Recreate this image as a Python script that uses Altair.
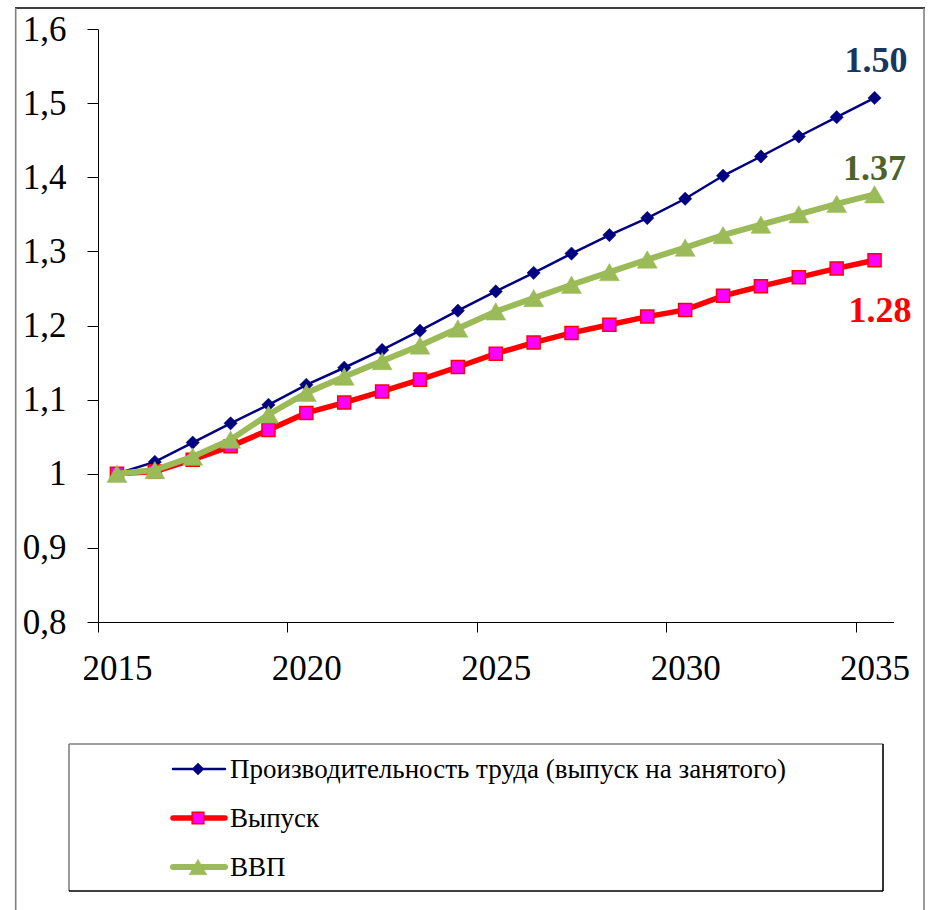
import altair as alt
import pandas as pd

# ---------------- data ----------------
years = list(range(2015, 2036))
series_names = [
    "Производительность труда (выпуск на занятого)",
    "Выпуск",
    "ВВП",
]
productivity = [1.000, 1.016, 1.042, 1.068, 1.093, 1.120, 1.143, 1.167, 1.193, 1.220,
                1.246, 1.271, 1.297, 1.322, 1.345, 1.371, 1.402, 1.428, 1.455, 1.481, 1.507]
output = [1.000, 1.003, 1.019, 1.037, 1.059, 1.082, 1.096, 1.111, 1.127, 1.144,
          1.162, 1.177, 1.190, 1.201, 1.212, 1.221, 1.240, 1.253, 1.265, 1.277, 1.288]
gdp = [1.000, 1.005, 1.023, 1.046, 1.080, 1.109, 1.131, 1.152, 1.173, 1.196,
       1.219, 1.237, 1.255, 1.272, 1.289, 1.305, 1.322, 1.336, 1.350, 1.364, 1.377]
end_labels = ["1.50", "1.28", "1.37"]
x_tick_labels = [2015, 2020, 2025, 2030, 2035]
y_tick_values = [0.8, 0.9, 1.0, 1.1, 1.2, 1.3, 1.4, 1.5, 1.6]

series_values = [productivity, output, gdp]

# ---------------- layout / style ----------------
FONT = "Liberation Serif"
W, H = 795.5, 593
PAD = {"left": 98, "top": 29, "right": 928 - 98 - W, "bottom": 910 - 29 - H}
half_cat = W / 21 / 2

styles = [
    dict(line="#000080", lw=2.5, shape="diamond", fill="#000080", stroke="#000080", sw=0.5,
         size=177, lab="#17375E", dx=1.5, dy=-26),
    dict(line="#FF0000", lw=5.5, shape="square", fill="#FF00FF", stroke="#FF0000", sw=1.5,
         size=170, lab="#FF0000", dx=5.5, dy=62),
    dict(line="#9BBB59", lw=6, shape="triangle-up", fill="#9BBB59", stroke="#9BBB59", sw=0.5,
         size=400, lab="#4F6228", dx=0, dy=-14),
]

x_scale = alt.Scale(domain=[2014.5, 2035.5], nice=False, zero=False)
y_scale = alt.Scale(domain=[0.8, 1.6], nice=False, zero=False)

x_axis = alt.Axis(values=x_tick_labels, format="d", title=None, grid=False,
                  tickOffset=-half_cat, labelOffset=half_cat, tickSize=10,
                  labelPadding=19, labelFontSize=35, labelFont=FONT, labelColor="black",
                  domainColor="black", tickColor="black", labelFlush=False, labelOverlap=False)
y_axis = alt.Axis(values=y_tick_values, title=None, grid=False, tickSize=11, labelPadding=21,
                  labelFontSize=35, labelFont=FONT, labelColor="black",
                  domainColor="black", tickColor="black",
                  labelExpr="replace(format(datum.value, '~g'), '.', ',')")

one = pd.DataFrame({"k": [0]})

layers = []

# outer frame
frame_specs = [
    (-83, 827, -21, -21, "#000000"),   # top
    (-82.3, -82.3, -21, 900, "#808080"),  # left
    (826, 826, -21, 900, "#808080"),   # right
]
for x1, x2, y1, y2, c in frame_specs:
    layers.append(alt.Chart(one).mark_rule(color=c, strokeWidth=1.6).encode(
        x=alt.value(x1), x2=alt.value(x2), y=alt.value(y1), y2=alt.value(y2)))

# series
for name, vals, st in zip(series_names, series_values, styles):
    df = pd.DataFrame({"year": years, "value": vals, "series": name})
    base = alt.Chart(df).encode(
        x=alt.X("year:Q", scale=x_scale, axis=x_axis),
        y=alt.Y("value:Q", scale=y_scale, axis=y_axis),
    )
    layers.append(base.mark_line(color=st["line"], strokeWidth=st["lw"]))
    layers.append(base.mark_point(shape=st["shape"], filled=True, fill=st["fill"], stroke=st["stroke"],
                                  strokeWidth=st["sw"], size=st["size"], opacity=1))

# end labels
for vals, lab, st in zip(series_values, end_labels, styles):
    layers.append(alt.Chart(one).mark_text(
        font=FONT, fontSize=36, fontWeight="bold", color=st["lab"], align="center",
        baseline="alphabetic", dx=st["dx"], dy=st["dy"]).encode(
        x=alt.datum(years[-1], scale=x_scale), y=alt.datum(vals[-1], scale=y_scale),
        text=alt.value(lab)))

# legend box
box = [
    (-29, 785, 715, 715, "#808080"),
    (-29, -29, 715, 862, "#808080"),
    (785, 785, 715, 862, "#000000"),
    (-29, 785, 862, 862, "#000000"),
]
for x1, x2, y1, y2, c in box:
    layers.append(alt.Chart(one).mark_rule(color=c, strokeWidth=1.6).encode(
        x=alt.value(x1), x2=alt.value(x2), y=alt.value(y1), y2=alt.value(y2)))

row_y = [740, 789, 838]
for name, st, ry in zip(series_names, styles, row_y):
    layers.append(alt.Chart(one).mark_rule(color=st["line"], strokeWidth=st["lw"], strokeCap="round").encode(
        x=alt.value(75), x2=alt.value(127), y=alt.value(ry)))
    layers.append(alt.Chart(one).mark_point(shape=st["shape"], filled=True, fill=st["fill"],
                                            stroke=st["stroke"], strokeWidth=st["sw"],
                                            size=st["size"] * 0.8, opacity=1).encode(
        x=alt.value(100), y=alt.value(ry)))
    layers.append(alt.Chart(one).mark_text(font=FONT, fontSize=27, color="black", align="left",
                                           baseline="middle").encode(
        x=alt.value(132), y=alt.value(ry + 1), text=alt.value(name)))

chart = alt.layer(*layers).properties(
    width=W, height=H, padding=PAD,
    autosize=alt.AutoSizeParams(type="none"),
    background="white",
).configure_view(stroke=None)

chart.save("out.html", embed_options={"renderer": "svg", "actions": False})
